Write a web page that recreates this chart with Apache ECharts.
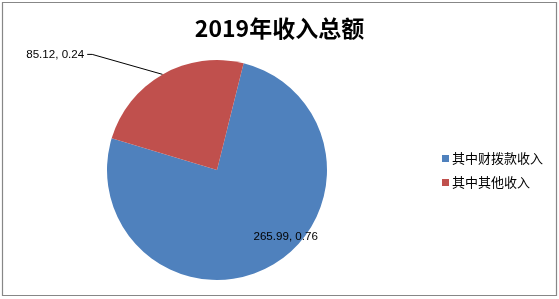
<!DOCTYPE html>
<html>
<head>
<meta charset="utf-8">
<script src="https://cdn.jsdelivr.net/npm/echarts@6/dist/echarts.min.js"></script>
<style>
html,body{margin:0;padding:0;background:#fff;}
#main{width:559px;height:299px;}
</style>
</head>
<body>
<div id="main"></div>
<script>
var chartTitle = '2019年收入总额';
var categories = ['其中财拨款收入', '其中其他收入'];
var values = [265.99, 85.12];
var shares = ['0.76', '0.24'];
var colors = ['#4F81BD', '#C0504D'];

var chart = echarts.init(document.getElementById('main'), null, {renderer: 'canvas'});

var data = categories.map(function (c, i) {
  return {name: c, value: values[i], itemStyle: {color: colors[i]},
    label: i === 0 ? {position: 'inside'} : {position: 'outside'},
    labelLine: i === 0 ? {show: false} : {show: true, length: 23, length2: 62}
  };
});

chart.setOption({
  animation: false,
  backgroundColor: '#fff',
  graphic: [{
    type: 'rect', silent: true,
    shape: {x: 2.5, y: 2.5, width: 554, height: 293},
    style: {fill: 'none', stroke: '#878787', lineWidth: 1.2}
  }],
  title: {
    text: chartTitle, left: 'center', top: 12,
    textStyle: {fontFamily: 'Noto Sans CJK SC', fontSize: 23, fontWeight: 'bold', color: '#000'}
  },
  legend: {
    orient: 'vertical', left: 437, top: 147, itemGap: 11,
    itemWidth: 7, itemHeight: 7, icon: 'rect',
    textStyle: {fontFamily: 'Noto Sans CJK SC', fontSize: 13, color: '#000', padding: [0, 0, 0, -2]},
    data: categories
  },
  series: [{
    type: 'pie',
    center: [217, 170],
    radius: 110,
    startAngle: 76,
    clockwise: true,
    avoidLabelOverlap: false,
    label: {
      show: true,
      fontFamily: 'Liberation Sans', fontSize: 11.6, color: '#000',
      formatter: function (p) { return values[p.dataIndex] + ', ' + shares[p.dataIndex]; }
    },
    labelLine: {lineStyle: {color: '#000', width: 1}, smooth: false},
    labelLayout: function (p) {
      if (p.dataIndex === 0) {
        return {dx: 40, dy: 16};
      }
      var pts = p.labelLinePoints;
      if (!pts) return {};
      var r = p.labelRect;
      var cy = r.y + r.height / 2;
      var endX = r.x + r.width + 3;
      return {labelLinePoints: [pts[0], [endX + 5, cy], [endX, cy]]};
    },
    emphasis: {disabled: true},
    data: data
  }]
});
</script>
</body>
</html>
